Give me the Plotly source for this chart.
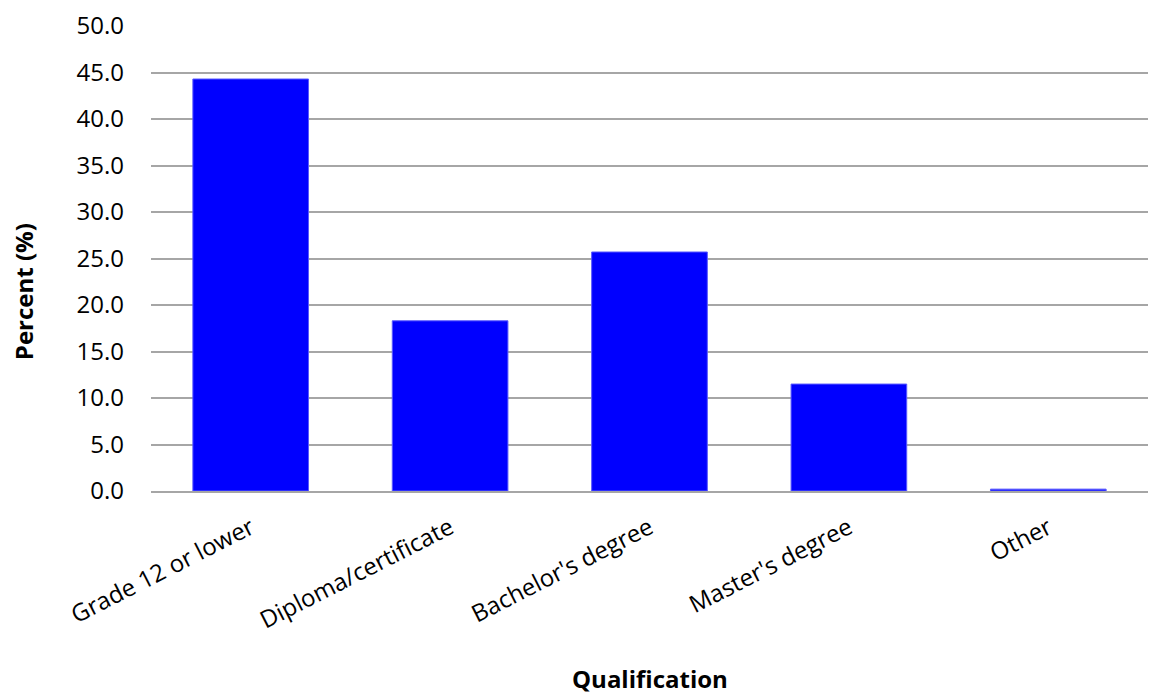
import plotly.graph_objects as go

categories = ["Grade 12 or lower", "Diploma/certificate", "Bachelor's degree", "Master's degree", "Other"]
values = [44.3, 18.3, 25.7, 11.5, 0.2]
y_ticks = [0, 5, 10, 15, 20, 25, 30, 35, 40, 45, 50]
y_ticklabels = [f"{v:.1f}" for v in y_ticks]

FONT = "Open Sans"
FS = 24

fig = go.Figure()
fig.add_trace(go.Bar(
    x=categories, y=values,
    marker=dict(color="#0000FF", line=dict(color="#5a5aff", width=1)),
    width=0.58,
))

fig.update_layout(
    width=1149, height=695,
    margin=dict(l=151, r=1, t=26, b=204),
    paper_bgcolor="white", plot_bgcolor="white",
    font=dict(family=FONT, color="black", size=FS),
    showlegend=False,
    xaxis=dict(
        tickangle=-27,
        showgrid=False,
        showline=True, linecolor="#A6A6A6", linewidth=1.5,
        tickfont=dict(family=FONT, size=FS),
        ticks="", ticklabelstandoff=12,
    ),
    yaxis=dict(
        range=[0, 50],
        tickvals=y_ticks, ticktext=y_ticklabels,
        showgrid=True, gridcolor="#A6A6A6", gridwidth=1.5,
        zeroline=False, showline=False,
        tickfont=dict(family=FONT, size=FS),
        ticks="", ticklabelstandoff=26,
    ),
    annotations=[
        dict(text="<b>Percent (%)</b>", textangle=-90, xref="paper", yref="paper",
             x=-151/998 + 23/998, y=(491-292)/465, xanchor="center", yanchor="middle",
             showarrow=False, font=dict(family=FONT, size=FS)),
        dict(text="<b>Qualification</b>", xref="paper", yref="paper",
             x=0.5, y=-(697-491)/465, xanchor="center", yanchor="bottom",
             showarrow=False, font=dict(family=FONT, size=FS)),
    ],
)

fig.write_html("out.html")
